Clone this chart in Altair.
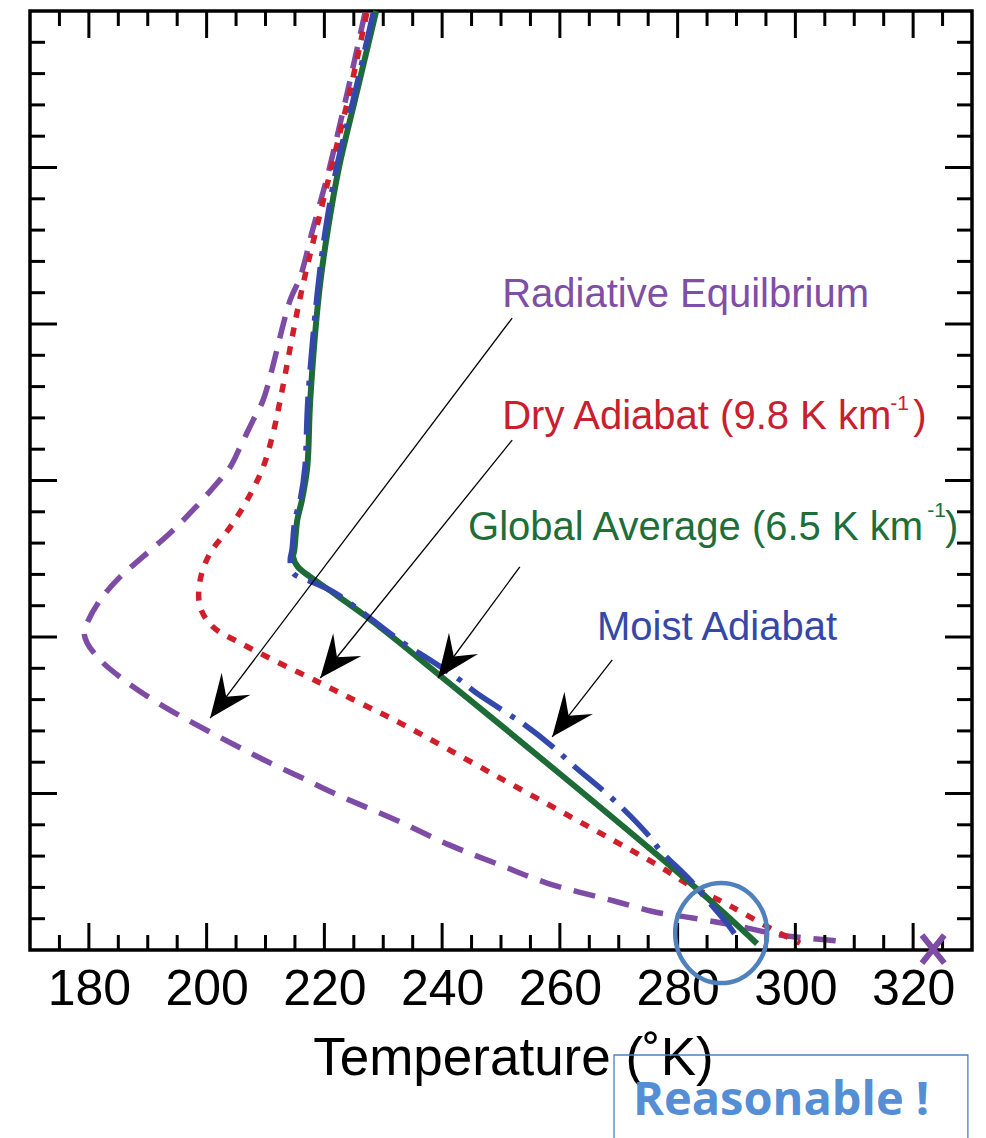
import math
import altair as alt
import pandas as pd

# ---------------- data: temperature (K), altitude (km) ----------------
rad_T = [226.9, 224.0, 221.2, 220.2, 218.0, 215.9, 214.2, 209.6, 207.9, 205.7, 204.0, 201.8,
         197.7, 193.8, 189.9, 185.3, 181.9, 179.7, 179.2, 179.7, 181.9, 185.3, 190.4, 195.5,
         200.6, 205.6, 210.3, 215.9, 221.5, 232.9, 241.3, 249.8, 257.8, 268.5, 277.0, 281.6,
         289.4, 297.4, 302.0, 307.1]
rad_z = [29.94, 27.48, 25.24, 24.50, 23.00, 21.50, 20.77, 17.57, 16.93, 16.07, 15.43, 14.92,
         14.06, 13.32, 12.68, 11.92, 11.18, 10.45, 10.15, 9.81, 9.27, 8.72, 8.05, 7.48,
         6.96, 6.47, 6.02, 5.53, 5.02, 4.09, 3.35, 2.72, 2.14, 1.60, 1.18, 1.05,
         0.80, 0.48, 0.38, 0.29]

dry_T = [227.2, 224.4, 221.5, 219.3, 215.9, 212.5, 211.3, 209.6, 206.9, 204.0, 200.6, 198.9,
         198.9, 201.1, 205.7, 211.3, 219.3, 226.1, 232.9, 249.5, 266.8, 276.5, 282.6, 287.7,
         291.1, 296.9, 300.8]
dry_z = [29.94, 27.48, 25.24, 23.55, 20.86, 17.57, 16.52, 15.43, 14.38, 13.51, 12.68, 11.82,
         10.96, 10.32, 9.81, 9.27, 8.53, 7.89, 7.25, 5.53, 3.74, 2.72, 2.01, 1.53,
         1.18, 0.58, 0.22]

glob_T = [228.8, 225.2, 222.5, 220.5, 219.1, 217.6, 217.1, 216.2, 215.4, 214.9, 214.7, 215.5,
          217.6, 221.5, 227.2, 232.9, 260.5, 283.6, 293.5]
glob_z = [30.0, 27.16, 25.02, 22.91, 20.99, 17.57, 15.43, 14.38, 13.74, 12.78, 12.56, 12.24,
          11.92, 11.41, 10.64, 9.80, 5.55, 1.90, 0.20]

moist_T = [228.3, 224.9, 222.1, 220.1, 218.8, 217.2, 216.7, 215.9, 215.0, 214.5, 214.2, 214.7,
           218.0, 221.8, 227.5, 233.4, 238.5, 243.0, 245.6, 251.5, 253.6, 258.8, 262.2, 269.7,
           275.3, 277.0, 282.1, 285.0, 288.6, 289.8]
moist_z = [29.94, 27.16, 25.02, 22.91, 20.99, 17.57, 15.43, 14.38, 13.74, 12.78, 12.46, 12.04,
           11.75, 11.41, 10.64, 9.81, 9.20, 8.63, 8.24, 7.51, 7.25, 6.49, 5.91, 4.70,
           3.61, 3.19, 2.24, 1.60, 0.80, 0.48]

# radiative-equilibrium surface temperature marker
x_mark_T = [323.4]
x_mark_z = [0.03]

# axis ticks
x_major = [180, 200, 220, 240, 260, 280, 300, 320]
x_minor = [175, 185, 190, 195, 205, 210, 215, 225, 230, 235, 245, 250, 255, 265, 270, 275,
           285, 290, 295, 305, 310, 315, 325]
y_major = [5, 10, 15, 20, 25]
y_minor = [1, 2, 3, 4, 6, 7, 8, 9, 11, 12, 13, 14, 16, 17, 18, 19, 21, 22, 23, 24, 26, 27, 28, 29]

# annotations
label_text = ["Radiative Equilbrium", "Dry Adiabat (9.8 K km", ")",
              "Global Average (6.5 K km", ")", "Moist Adiabat"]
label_T = [250.2, 250.2, 320.0, 244.4, 325.4, 266.3]
label_z = [20.54, 16.645, 16.645, 13.10, 13.10, 9.90]
label_color = ["#7f4ea6", "#c8202f", "#c8202f", "#1e6e3a", "#1e6e3a", "#3548a8"]

sup_text = ["-1", "-1"]
sup_T = [316.1, 322.4]
sup_z = [17.25, 13.83]
sup_color = ["#c8202f", "#1e6e3a"]

arrow_T0 = [251.9, 251.9, 253.2, 268.9]
arrow_z0 = [20.19, 16.29, 12.24, 9.27]
arrow_T1 = [200.6, 219.3, 239.3, 258.7]
arrow_z1 = [7.41, 8.69, 8.69, 6.81]

circle_T = [287.4]
circle_z = [0.54]

box_T = [269.2, 329.3]
box_z = [-3.355, -6.6]
note_text = ["Reasonable !"]
note_T = [272.4]
note_z = [-5.27]

# ---------------- layout ----------------
T_MIN, T_MAX = 170, 330
Z_MIN, Z_MAX = 0, 30
W, H = 942, 939
FONT = "Liberation Sans"

xs = alt.Scale(domain=[T_MIN, T_MAX], nice=False, zero=False)
ys = alt.Scale(domain=[Z_MIN, Z_MAX], nice=False, zero=False)


def series(T, z):
    return pd.DataFrame({"T": T, "z": z, "order": list(range(len(T)))})


x_axis = alt.Axis(
    values=x_major, format="d", labelFont=FONT, labelFontSize=50, labelColor="black",
    labelPadding=14, labelFlush=False, labelOverlap=False, ticks=False, domain=False, grid=False,
    title="Temperature (˚K)", titleFont=FONT, titleFontSize=53, titleFontWeight="normal",
    titleColor="black", titleX=483, titleY=124, titleBaseline="alphabetic", titleAlign="center",
)


def X(field="T"):
    return alt.X(f"{field}:Q", scale=xs, axis=x_axis)


def Y(field="z"):
    return alt.Y(f"{field}:Q", scale=ys, axis=None)


purple = "#7e4ca5"
red = "#d01f2a"
green = "#1d6b36"
blue = "#3348ab"

rad_line = alt.Chart(series(rad_T, rad_z)).mark_line(
    color=purple, strokeWidth=5.5, strokeDash=[22, 13], interpolate="catmull-rom"
).encode(x=X(), y=Y(), order="order:Q")

dry_line = alt.Chart(series(dry_T, dry_z)).mark_line(
    color=red, strokeWidth=5.5, strokeDash=[9, 10], interpolate="catmull-rom"
).encode(x=X(), y=Y(), order="order:Q")

glob_line = alt.Chart(series(glob_T, glob_z)).mark_line(
    color=green, strokeWidth=6, interpolate="catmull-rom"
).encode(x=X(), y=Y(), order="order:Q")

moist_line = alt.Chart(series(moist_T, moist_z)).mark_line(
    color=blue, strokeWidth=5.5, strokeDash=[38, 11, 5, 11], interpolate="catmull-rom"
).encode(x=X(), y=Y(), order="order:Q")

# inward ticks on all four sides
MAJ, MIN_ = 27, 15
tick_style = dict(color="black", strokeWidth=3)
xmaj = pd.DataFrame({"T": x_major})
xmin = pd.DataFrame({"T": x_minor})
ymaj = pd.DataFrame({"z": y_major})
ymin = pd.DataFrame({"z": y_minor})

ticks = []
for df, L in ((xmaj, MAJ), (xmin, MIN_)):
    ticks.append(alt.Chart(df).mark_rule(**tick_style).encode(
        x=X(), y=alt.value(0), y2=alt.value(L)))
    ticks.append(alt.Chart(df).mark_rule(**tick_style).encode(
        x=X(), y=alt.value(H), y2=alt.value(H - L)))
for df, L in ((ymaj, MAJ), (ymin, MIN_)):
    ticks.append(alt.Chart(df).mark_rule(**tick_style).encode(
        y=Y(), x=alt.value(0), x2=alt.value(L)))
    ticks.append(alt.Chart(df).mark_rule(**tick_style).encode(
        y=Y(), x=alt.value(W), x2=alt.value(W - L)))

# arrows
arrow_df = pd.DataFrame({"T": arrow_T0, "z": arrow_z0, "T1": arrow_T1, "z1": arrow_z1})


def px(T):
    return (T - T_MIN) / (T_MAX - T_MIN) * W


def py(z):
    return (Z_MAX - z) / (Z_MAX - Z_MIN) * H


arrow_df["angle"] = [
    math.degrees(math.atan2(px(t1) - px(t0), -(py(z1) - py(z0)))) % 360
    for t0, z0, t1, z1 in zip(arrow_T0, arrow_z0, arrow_T1, arrow_z1)
]

arrow_lines = alt.Chart(arrow_df).mark_rule(color="black", strokeWidth=1.3).encode(
    x=X(), y=Y(), x2="T1:Q", y2="z1:Q")

ARROW_PATH = "M 0 0 L 0.42 1 L 0 0.62 L -0.42 1 Z"
head_df = pd.DataFrame({"T": arrow_T1, "z": arrow_z1, "angle": arrow_df["angle"]})
arrow_heads = alt.Chart(head_df).mark_point(
    shape=ARROW_PATH, filled=True, color="black", opacity=1, size=7396, strokeWidth=0
).encode(x=X(), y=Y(), angle=alt.Angle("angle:Q", scale=None))

# labels
lab_df = pd.DataFrame({"T": label_T, "z": label_z, "text": label_text, "c": label_color})
labels = alt.Chart(lab_df).mark_text(
    align="left", baseline="alphabetic", font=FONT, fontSize=40
).encode(x=X(), y=Y(), text="text:N", color=alt.Color("c:N", scale=None))

sup_df = pd.DataFrame({"T": sup_T, "z": sup_z, "text": sup_text, "c": sup_color})
sups = alt.Chart(sup_df).mark_text(
    align="left", baseline="alphabetic", font=FONT, fontSize=21
).encode(x=X(), y=Y(), text="text:N", color=alt.Color("c:N", scale=None))

# purple x at the surface
xm = alt.Chart(series(x_mark_T, x_mark_z)).mark_point(
    shape="M -0.8 -1 L 0.8 1 M -0.8 1 L 0.8 -1", filled=False, color=purple,
    strokeWidth=6, size=784, opacity=1
).encode(x=X(), y=Y())

# highlight ellipse
ell = alt.Chart(series(circle_T, circle_z)).mark_point(
    shape="M -0.92 0 A 0.92 1 0 1 1 0.92 0 A 0.92 1 0 1 1 -0.92 0 Z",
    filled=False, color="#4f81bd", strokeWidth=4.5, size=10000, opacity=1
).encode(x=X(), y=Y())

# note box
box_df = pd.DataFrame({"T": [box_T[0]], "T2": [box_T[1]], "z": [box_z[0]], "z2": [box_z[1]]})
box = alt.Chart(box_df).mark_rect(
    fill="white", fillOpacity=0, stroke="#4f81bd", strokeWidth=1.3
).encode(x=X(), x2="T2:Q", y=Y(), y2="z2:Q")

note = alt.Chart(pd.DataFrame({"T": note_T, "z": note_z, "text": note_text})).mark_text(
    align="left", baseline="alphabetic", font="Open Sans", fontWeight="bold", fontSize=47,
    color="#558ed5"
).encode(x=X(), y=Y(), text="text:N")

chart = alt.layer(
    rad_line, dry_line, glob_line, moist_line, *ticks, arrow_lines, arrow_heads,
    labels, sups, ell, xm, box, note
).properties(
    width=W, height=H,
    autosize=alt.AutoSizeParams(type="none"),
    padding={"left": 30, "top": 11, "right": 14, "bottom": 188},
).configure(
    background="white",
    view=alt.ViewConfig(stroke="black", strokeWidth=3.5),
)

chart.save("out.html", embed_options={"renderer": "svg", "actions": False})
